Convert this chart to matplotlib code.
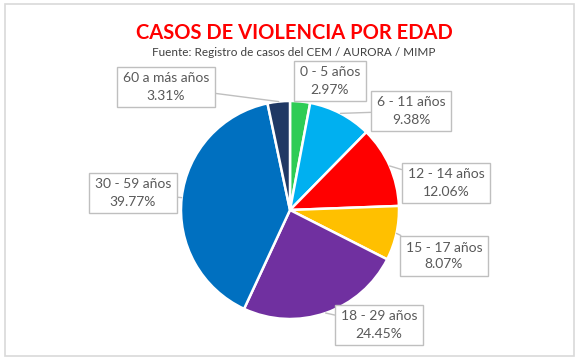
import numpy as np
import matplotlib.pyplot as plt
from matplotlib.patches import Rectangle

# data
grupos = ['0 - 5 años', '6 - 11 años', '12 - 14 años', '15 - 17 años',
          '18 - 29 años', '30 - 59 años', '60 a más años']
porcentajes = [2.97, 9.38, 12.06, 8.07, 24.45, 39.77, 3.31]
colores = ['#2ECC55', '#00B0F0', '#FF0000', '#FFC000', '#7030A0', '#0070C0', '#203864']

# label box centres (pixels, y from top)
pos_etiquetas = [(330, 81), (411, 111), (446, 183), (444, 256),
                 (379, 325), (133, 193), (166, 87)]

W, H = 584, 364
plt.rcParams['font.family'] = ['Lato', 'DejaVu Sans']

fig = plt.figure(figsize=(W / 100, H / 100), dpi=100)
ax = fig.add_axes([0, 0, 1, 1])

cx, cy, r = 290, H - 210, 109
wedges, _ = ax.pie(porcentajes, colors=colores, startangle=90, counterclock=False,
                   center=(cx, cy), radius=r,
                   wedgeprops=dict(edgecolor='white', linewidth=1.8))
ax.set_xlim(0, W)
ax.set_ylim(0, H)
ax.set_aspect('equal')
ax.axis('off')

# outer chart border
ax.add_patch(Rectangle((5, H - 356), 569, 352, fill=False, edgecolor='#D9D9D9', lw=1.2))

for w, g, p, (tx, ty) in zip(wedges, grupos, porcentajes, pos_etiquetas):
    ang = np.deg2rad((w.theta1 + w.theta2) / 2)
    px = cx + r * np.cos(ang)
    py = cy + r * np.sin(ang)
    ax.annotate(f'{g}\n{p:.2f}%', xy=(px, py), xytext=(tx, H - ty),
                ha='center', va='center', fontsize=10, color='#595959',
                linespacing=1.5, annotation_clip=False,
                bbox=dict(boxstyle='square,pad=0.4', fc='white', ec='#BFBFBF', lw=1),
                arrowprops=dict(arrowstyle='-', color='#BFBFBF', lw=1, shrinkA=0, shrinkB=0))

ax.text(W / 2 + 2, H - 33, 'CASOS DE VIOLENCIA POR EDAD', ha='center', va='center',
        fontsize=14.5, fontweight='bold', color='#FF0000')
ax.text(W / 2 + 2, H - 53, 'Fuente: Registro de casos del CEM / AURORA / MIMP',
        ha='center', va='center', fontsize=8.5, color='#404040')

fig.savefig('out.png', dpi=100, facecolor='white')
